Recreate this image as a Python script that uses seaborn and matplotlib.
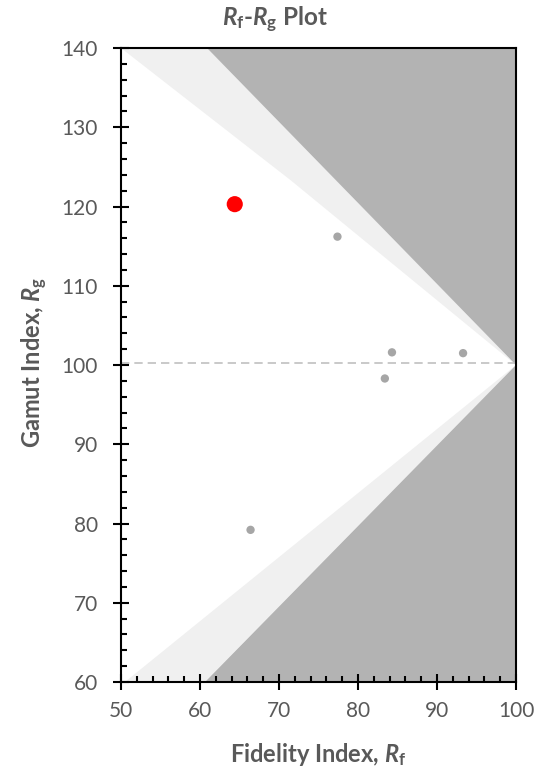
import matplotlib
matplotlib.use("Agg")
import matplotlib.pyplot as plt
import seaborn as sns
import pandas as pd
from matplotlib.ticker import MultipleLocator

# data
rf_points = [77.4, 84.3, 93.3, 83.4, 66.4]
rg_points = [116.2, 101.6, 101.5, 98.3, 79.2]
rf_highlight = [64.4]
rg_highlight = [120.3]

# region boundaries (Rf, Rg)
upper_dark_rf = [60.9, 100, 100]
upper_dark_rg = [140, 140, 100]
upper_light_rf = [50.0, 60.9, 100, 71.5]
upper_light_rg = [140, 140, 100, 123.3]
lower_dark_rf = [60.6, 100, 100]
lower_dark_rg = [60, 60, 100]
lower_light_rf = [50.5, 60.6, 100]
lower_light_rg = [60, 60, 100]

sns.set_theme(style="white")
FONT = 'Lato'
plt.rcParams['font.family'] = [FONT, 'DejaVu Sans']
plt.rcParams['mathtext.fontset'] = 'custom'
plt.rcParams['mathtext.rm'] = FONT + ':bold'
plt.rcParams['mathtext.it'] = FONT + ':italic:bold'
plt.rcParams['mathtext.bf'] = FONT + ':bold'

txt = '#595959'
fig = plt.figure(figsize=(5.54, 7.75), dpi=100)
ax = fig.add_axes([0.2184, 0.12, 0.713, 0.818])
ax.set_axisbelow(False)

ax.fill(upper_light_rf, upper_light_rg, color='#f0f0f0', lw=0, zorder=0)
ax.fill(lower_light_rf, lower_light_rg, color='#f0f0f0', lw=0, zorder=0)
ax.fill(upper_dark_rf, upper_dark_rg, color='#b3b3b3', lw=0, zorder=1)
ax.fill(lower_dark_rf, lower_dark_rg, color='#b3b3b3', lw=0, zorder=1)
ax.axhline(100.2, color='#c0c0c0', lw=1.2, ls=(0, (5, 3)), zorder=2)

df = pd.DataFrame({'Rf': rf_points, 'Rg': rg_points})
dh = pd.DataFrame({'Rf': rf_highlight, 'Rg': rg_highlight})
sns.scatterplot(data=df, x='Rf', y='Rg', ax=ax, color='#a6a6a6', s=36, edgecolor='none', zorder=3)
sns.scatterplot(data=dh, x='Rf', y='Rg', ax=ax, color='#ff0000', s=135, edgecolor='none', zorder=4)

ax.set_xlim(50, 100)
ax.set_ylim(60, 140)
ax.xaxis.set_major_locator(MultipleLocator(10))
ax.xaxis.set_minor_locator(MultipleLocator(2))
ax.yaxis.set_major_locator(MultipleLocator(10))
ax.yaxis.set_minor_locator(MultipleLocator(2))
ax.tick_params(which='major', direction='inout', length=11.5, width=1.5, colors='black',
               labelcolor=txt, labelsize=15, bottom=True, left=True)
ax.tick_params(axis='y', which='major', pad=11)
ax.tick_params(axis='x', which='major', pad=8)
ax.tick_params(which='minor', direction='in', length=4.3, width=1.5, colors='black',
               bottom=True, left=True)
for s in ax.spines.values():
    s.set_color('black')
    s.set_linewidth(1.5)
    s.set_visible(True)

ax.set_xlabel('')
ax.set_ylabel('')
fig.text(0.575, 1 - 755 / 775, r'Fidelity Index, $\it{R}_\mathbf{f}$', fontsize=17,
         fontweight='bold', color=txt, ha='center', va='center')
fig.text(35 / 554, 1 - 362 / 775, r'Gamut Index, $\it{R}_\mathbf{g}$', fontsize=17,
         fontweight='bold', color=txt, ha='center', va='center', rotation=90)
fig.text(0.497, 1 - 20 / 775, r'$\it{R}_\mathbf{f}$-$\it{R}_\mathbf{g}$ Plot', fontsize=17.5,
         fontweight='bold', color=txt, ha='center', va='center')

fig.savefig('out.png', dpi=100)
